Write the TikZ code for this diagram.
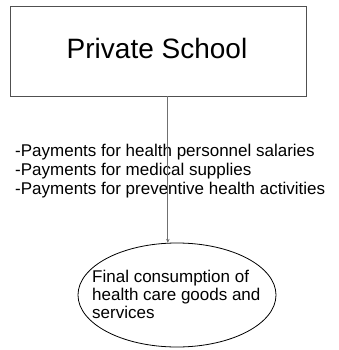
\documentclass[tikz,border=0pt]{standalone}
\usepackage{fontspec}
\setmainfont{Liberation Sans}
\usetikzlibrary{shapes.geometric,arrows.meta}
\definecolor{linegray}{HTML}{707070}
\definecolor{boxgray}{HTML}{505050}
\tikzset{
  boxstyle/.style={draw=boxgray, line width=0.8pt, minimum width=296pt, minimum height=90pt, inner sep=0pt},
  ellstyle/.style={draw=black, line width=0.8pt, ellipse, minimum width=198pt, minimum height=104pt, inner sep=0pt},
  bigtext/.style={font=\fontsize{28pt}{30pt}\selectfont, inner sep=0pt},
  smalltext/.style={font=\fontsize{17pt}{19pt}\selectfont, inner sep=0pt, align=left},
  elltext/.style={font=\fontsize{17pt}{18pt}\selectfont, inner sep=0pt, align=left},
  conn/.style={draw=linegray, line width=1.2pt, -{Stealth[length=4pt,width=3.5pt]}}
}
\begin{document}
\begin{tikzpicture}[x=1pt,y=-1pt]
\useasboundingbox (0,0) rectangle (338,350);
\node[boxstyle] (box) at (158.3,51) {};
\node[bigtext, anchor=base] (title) at (157,58.3) {Private School};
\node[smalltext, anchor=base west] (pay) at (15,194.5) {-Payments for health personnel salaries\\-Payments for medical supplies\\-Payments for preventive health activities};
\node[ellstyle] (ell) at (177,295) {};
\node[elltext, anchor=base west] (fc) at (92,318) {Final consumption of\\health care goods and\\services};
\draw[conn] (box.south -| ell.100) -- (ell.100);
\end{tikzpicture}
\end{document}
